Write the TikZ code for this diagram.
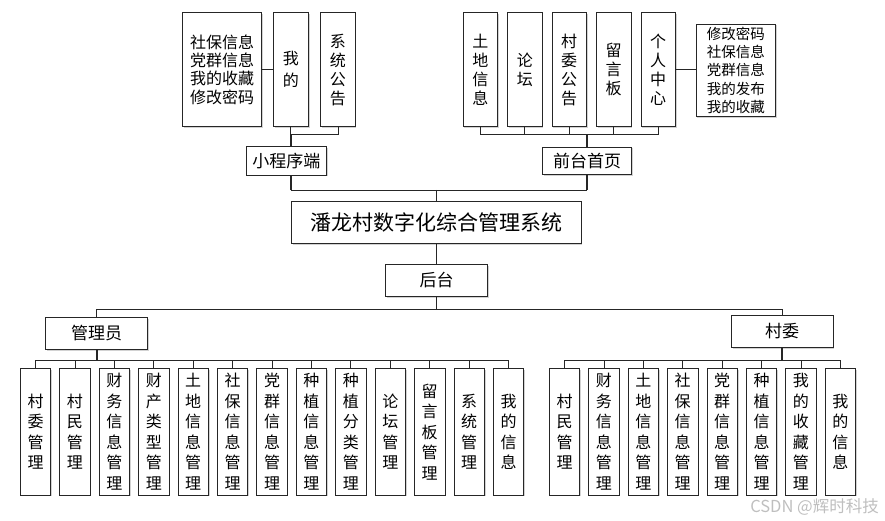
\documentclass[tikz,border=0pt]{standalone}
\usepackage{fontspec}
\setmainfont{Noto Sans CJK SC}
\usetikzlibrary{shadows}
\begin{document}
\begin{tikzpicture}[x=1pt,y=-1pt,
  box/.style={draw=black!85, line width=0.7pt, fill=white, inner sep=0pt, align=center,
    drop shadow={shadow xshift=1.2pt, shadow yshift=-1.2pt, fill=black!25, opacity=0.7}},
  vt/.style={box, font=\fontsize{16}{20.5}\selectfont, minimum width=30.4pt, minimum height=126.7pt},
  tv/.style={box, font=\fontsize{16}{19}\selectfont, minimum width=34.3pt, minimum height=114pt},
  hb/.style={box, font=\fontsize{17}{20}\selectfont},
  link/.style={draw=black!85, line width=0.8pt},
  trunk/.style={draw=black!85, line width=1.7pt}]
\useasboundingbox (0,0) rectangle (885,521);
\coordinate (busTL) at (0,134.7);
\coordinate (busM) at (0,190);
\coordinate (busB) at (0,309);
\coordinate (busA) at (0,360.3);
% top left
\node[box, font=\fontsize{16}{18.3}\selectfont, minimum width=79pt, minimum height=114pt] (tl1) at (222.2,69.7) {社保信息\\党群信息\\我的收藏\\修改密码};
\node[box, font=\fontsize{16}{21.7}\selectfont, minimum width=35pt, minimum height=114pt] (tl2) at (290.8,69.7) {我\\的};
\node[tv] (tl3) at (337.9,69.7) {系\\统\\公\\告};
\node[hb, minimum width=80.7pt, minimum height=28.3pt] (xcx) at (286.3,160.8) {小程序端};
% top right
\foreach \t [count=\i] in {{土\\地\\信\\息},{论\\坛},{村\\委\\公\\告},{留\\言\\板},{个\\人\\中\\心}}
  \node[tv] (r\i) at ({480.3+44.47*(\i-1)},69.7) {\t};
\node[box, font=\fontsize{14.5}{18.3}\selectfont, minimum width=79.7pt, minimum height=92.7pt] (grp) at (735.9,70.3) {修改密码\\社保信息\\党群信息\\我的发布\\我的收藏};
\node[hb, minimum width=89.4pt, minimum height=27.4pt] (qt) at (587,161) {前台首页};
% middle
\node[box, font=\fontsize{21}{24}\selectfont, minimum width=289.3pt, minimum height=42.3pt] (main) at (436.4,222.2) {潘龙村数字化综合管理系统};
\node[hb, minimum width=101.6pt, minimum height=32pt] (ht) at (436.5,280.3) {后台};
\node[hb, minimum width=102pt, minimum height=32pt] (adm) at (96.7,333.3) {管理员};
\node[hb, minimum width=101.7pt, minimum height=32pt] (cw) at (782.2,331.3) {村委};
% admin leaves
\foreach \t [count=\i] in {{村\\委\\管\\理},{村\\民\\管\\理},{财\\务\\信\\息\\管\\理},{财\\产\\类\\型\\管\\理},{土\\地\\信\\息\\管\\理},{社\\保\\信\\息\\管\\理},{党\\群\\信\\息\\管\\理},{种\\植\\信\\息\\管\\理},{种\\植\\分\\类\\管\\理},{论\\坛\\管\\理},{留\\言\\板\\管\\理},{系\\统\\管\\理},{我\\的\\信\\息}}
  \node[vt] (a\i) at ({35.5+39.42*(\i-1)},431.7) {\t};
% village leaves
\foreach \t [count=\i] in {{村\\民\\管\\理},{财\\务\\信\\息\\管\\理},{土\\地\\信\\息\\管\\理},{社\\保\\信\\息\\管\\理},{党\\群\\信\\息\\管\\理},{种\\植\\信\\息\\管\\理},{我\\的\\收\\藏\\管\\理},{我\\的\\信\\息}}
  \node[vt] (c\i) at ({564.5+39.4*(\i-1)},431.7) {\t};
% connectors top left
\draw[link] (tl1.east) -- (tl2.west);
\draw[link] (tl2.south) -- (tl2.south |- busTL) -| (tl3.south);
\draw[trunk] (tl2.south |- busTL) -- (tl2.south |- xcx.north);
\draw[trunk] (tl2.south |- xcx.south) -- (tl2.south |- busM);
% connectors top right
\draw[link] (r1.south |- busTL) -- (r5.south |- busTL);
\foreach \i in {1,...,5} \draw[link] (r\i.south) -- (r\i.south |- busTL);
\draw[link] (r5.east) -- (r5.east -| grp.west);
\draw[trunk] (qt.north |- busTL) -- (qt.north);
\draw[trunk] (qt.south) -- (qt.south |- busM);
% middle
\draw[link] (tl2.south |- busM) -- (qt.south |- busM);
\draw[link] (main.north |- busM) -- (main.north);
\draw[link] (main.south) -- (ht.north);
\draw[link] (ht.south) -- (ht.south |- busB);
\draw[link] (adm.north |- busB) -- (cw.north |- busB);
\draw[link] (adm.north |- busB) -- (adm.north);
\draw[link] (cw.north |- busB) -- (cw.north);
% admin bus
\draw[trunk] (adm.south) -- (adm.south |- busA);
\draw[link] (a1.north |- busA) -- (a13.north |- busA);
\foreach \i in {1,...,13} \draw[link] (a\i.north |- busA) -- (a\i.north);
% village bus
\draw[trunk] (cw.south) -- (cw.south |- busA);
\draw[link] (c1.north |- busA) -- (c8.north |- busA);
\foreach \i in {1,...,8} \draw[link] (c\i.north |- busA) -- (c\i.north);
% watermark
\node[font=\fontsize{16.5}{17}\selectfont, text=black!25, anchor=east, inner sep=0pt] (wm) at (879,507) {CSDN @辉时科技};
\end{tikzpicture}
\end{document}
